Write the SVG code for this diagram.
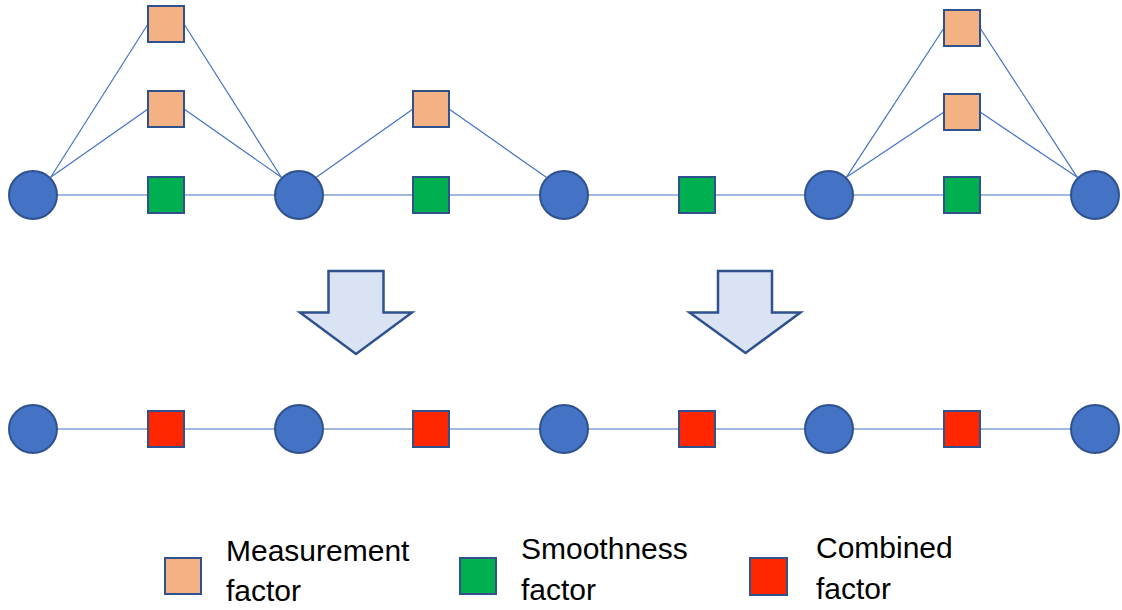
<svg xmlns="http://www.w3.org/2000/svg" width="1122" height="610" viewBox="0 0 1122 610">
<style>
.var{fill:#4472C4;stroke:#2F528F;stroke-width:2}
.meas{fill:#F4B183;stroke:#2F528F;stroke-width:2}
.smooth{fill:#00B050;stroke:#2F528F;stroke-width:2}
.comb{fill:#FF2600;stroke:#2F528F;stroke-width:2}
.edge{stroke:#4472C4;stroke-width:1.2;fill:none}
.arrow{fill:#DAE3F3;stroke:#2F528F;stroke-width:2.5;stroke-linejoin:miter}
.lbl{font-family:"Liberation Sans",Arial,sans-serif;font-size:30px;fill:#000}
</style>
<rect width="1122" height="610" fill="#fff"/>
<g id="connectors">
<line class="edge" x1="33" y1="195" x2="1095" y2="195"/>
<line class="edge" x1="33" y1="429" x2="1095" y2="429"/>
<line class="edge" x1="50.7" y1="177.3" x2="148" y2="24"/>
<line class="edge" x1="50.7" y1="177.3" x2="148" y2="109"/>
<line class="edge" x1="184" y1="24" x2="281.3" y2="177.3"/>
<line class="edge" x1="184" y1="109" x2="281.3" y2="177.3"/>
<line class="edge" x1="316.3" y1="177.3" x2="413" y2="109"/>
<line class="edge" x1="449" y1="109" x2="546.3" y2="177.3"/>
<line class="edge" x1="846.3" y1="177.3" x2="944" y2="28"/>
<line class="edge" x1="846.3" y1="177.3" x2="944" y2="112"/>
<line class="edge" x1="980" y1="28" x2="1077.3" y2="177.3"/>
<line class="edge" x1="980" y1="112" x2="1077.3" y2="177.3"/>
</g>
<g id="x1"><circle class="var" cx="33" cy="195" r="24"/></g>
<g id="x2"><circle class="var" cx="299" cy="195" r="24"/></g>
<g id="x3"><circle class="var" cx="564" cy="195" r="24"/></g>
<g id="x4"><circle class="var" cx="829" cy="195" r="24"/></g>
<g id="x5"><circle class="var" cx="1095" cy="195" r="24"/></g>
<g id="m1a"><rect class="meas" x="148" y="6" width="36" height="36"/></g>
<g id="m1b"><rect class="meas" x="148" y="91" width="36" height="36"/></g>
<g id="s1"><rect class="smooth" x="148" y="177" width="36" height="36"/></g>
<g id="m2"><rect class="meas" x="413" y="91" width="36" height="36"/></g>
<g id="s2"><rect class="smooth" x="413" y="177" width="36" height="36"/></g>
<g id="s3"><rect class="smooth" x="679" y="177" width="36" height="36"/></g>
<g id="m4a"><rect class="meas" x="944" y="10" width="36" height="36"/></g>
<g id="m4b"><rect class="meas" x="944" y="94" width="36" height="36"/></g>
<g id="s4"><rect class="smooth" x="944" y="177" width="36" height="36"/></g>
<g id="arrow1"><polygon class="arrow" points="328.5,271 383.5,271 383.5,312.5 412,312.5 356,354 300,312.5 328.5,312.5"/></g>
<g id="arrow2"><polygon class="arrow" points="718,271 772,271 772,312.5 800.5,312.5 745.5,353 689.5,312.5 718,312.5"/></g>
<g id="y1"><circle class="var" cx="33" cy="429" r="24"/></g>
<g id="y2"><circle class="var" cx="299" cy="429" r="24"/></g>
<g id="y3"><circle class="var" cx="564" cy="429" r="24"/></g>
<g id="y4"><circle class="var" cx="829" cy="429" r="24"/></g>
<g id="y5"><circle class="var" cx="1095" cy="429" r="24"/></g>
<g id="c1"><rect class="comb" x="148" y="411" width="36" height="36"/></g>
<g id="c2"><rect class="comb" x="413" y="411" width="36" height="36"/></g>
<g id="c3"><rect class="comb" x="679" y="411" width="36" height="36"/></g>
<g id="c4"><rect class="comb" x="944" y="411" width="36" height="36"/></g>
<g id="legend-measurement">
<rect class="meas" x="165" y="558" width="36" height="36" stroke-width="1.5"/>
<text class="lbl" x="226" y="561">Measurement</text>
<text class="lbl" x="226" y="601">factor</text>
</g>
<g id="legend-smoothness">
<rect class="smooth" x="460" y="558" width="36" height="36" stroke-width="1.5"/>
<text class="lbl" x="521" y="559">Smoothness</text>
<text class="lbl" x="521" y="600">factor</text>
</g>
<g id="legend-combined">
<rect class="comb" x="750" y="558" width="37" height="37" stroke-width="1.5"/>
<text class="lbl" x="816" y="558">Combined</text>
<text class="lbl" x="816" y="599">factor</text>
</g>
</svg>
